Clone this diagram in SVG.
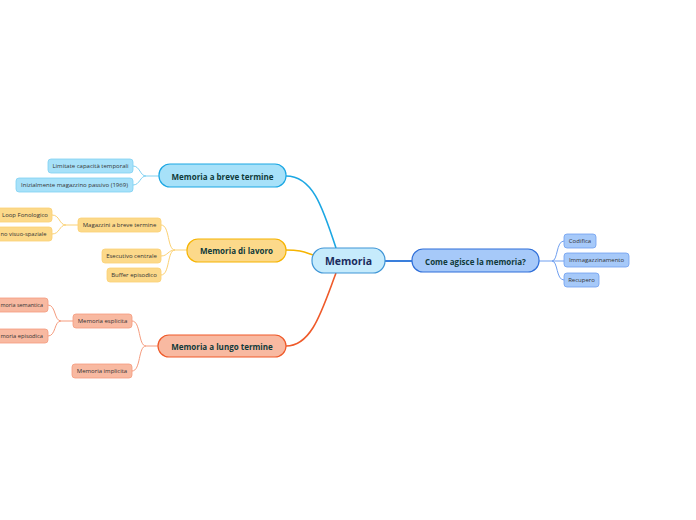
<svg xmlns="http://www.w3.org/2000/svg" width="696" height="520" viewBox="0 0 696 520">
<style>
text{font-family:"Open Sans","Noto Sans","Liberation Sans",sans-serif;text-anchor:middle;dominant-baseline:central}
.root{fill:#c6ebfc;stroke:#3f95d6;stroke-width:1.2}
.rootT{font-size:10.5px;font-weight:bold;fill:#1b2b5e}
.l1T{font-size:8px;font-weight:bold;fill:#0f3a3a}
.cT{font-size:6px;fill:#333}
.cut{text-anchor:start}
.b1{fill:#a7e1f9;stroke:#1ca7e3;stroke-width:1.2}
.b2{fill:#a7e1f9;stroke:#7fd1f2;stroke-width:0.8}
.y1{fill:#fcd98a;stroke:#f6b400;stroke-width:1.2}
.y2{fill:#fcd98a;stroke:#fbd173;stroke-width:0.8}
.r1{fill:#f8b9a1;stroke:#ef5a2a;stroke-width:1.2}
.r2{fill:#f8b9a1;stroke:#f59b7d;stroke-width:0.8}
.c1{fill:#a6c9f9;stroke:#2f6fd9;stroke-width:1.2}
.c2{fill:#a6c9f9;stroke:#6f9ff0;stroke-width:0.8}
.ln{fill:none}
</style>
<g id="connectors">
<path class="ln" d="M385,261 H412" stroke="#3a7fdc" stroke-width="2"/>
<path class="ln" d="M286,176 C312,176 322,205 336,248" stroke="#1ca7e3" stroke-width="1.6"/>
<path class="ln" d="M286,250 C300,250 304,252 313,255" stroke="#f6b400" stroke-width="1.6"/>
<path class="ln" d="M286,346 C312,346 322,310 336,273" stroke="#ef5a2a" stroke-width="1.6"/>
<g stroke="#6f9ff0" stroke-width="1" class="ln">
<path d="M539,261 H552 C558,261 556,241 564,241"/>
<path d="M552,261 H564"/>
<path d="M552,261 C558,261 556,280 564,280"/>
</g>
<g stroke="#7fd1f2" stroke-width="1" class="ln">
<path d="M159,176 H146 C140,176 140,166 133,166"/>
<path d="M146,176 C140,176 140,185 133,185"/>
</g>
<g stroke="#fbd173" stroke-width="1" class="ln">
<path d="M187,250 H175 C167,250 170,225 161,225"/>
<path d="M175,250 C168,250 168,256 161,256"/>
<path d="M175,250 C167,250 170,275 161,275"/>
<path d="M78,225 H66 C59,225 60,215 52,215"/>
<path d="M66,225 C59,225 60,234 52,234"/>
</g>
<g stroke="#f59b7d" stroke-width="1" class="ln">
<path d="M158,346 H146 C138,346 141,321 132,321"/>
<path d="M146,346 C138,346 141,371 132,371"/>
<path d="M73,321 H61 C54,321 56,305 48,305"/>
<path d="M61,321 C54,321 56,336 48,336"/>
</g>
</g>
<g id="memoria"><rect class="root" x="312" y="248" width="73" height="25" rx="12"/><text class="rootT" x="348.5" y="261">Memoria</text></g>
<g id="come"><rect class="c1" x="412" y="249" width="127" height="23" rx="11"/><text class="l1T" x="475.5" y="261">Come agisce la memoria?</text></g>
<g id="codifica"><rect class="c2" x="564" y="234" width="32" height="14" rx="3"/><text class="cT" x="580" y="241">Codifica</text></g>
<g id="immagazzinamento"><rect class="c2" x="564" y="253" width="65" height="14" rx="3"/><text class="cT" x="596.5" y="260">Immagazzinamento</text></g>
<g id="recupero"><rect class="c2" x="564" y="273" width="35" height="14" rx="3"/><text class="cT" x="581.5" y="280">Recupero</text></g>
<g id="breve"><rect class="b1" x="159" y="164" width="127" height="23" rx="11"/><text class="l1T" x="222.5" y="176">Memoria a breve termine</text></g>
<g id="limitate"><rect class="b2" x="48" y="159" width="85" height="14" rx="3"/><text class="cT" x="90.5" y="166">Limitate capacità temporali</text></g>
<g id="inizialmente"><rect class="b2" x="16" y="178" width="117" height="14" rx="3"/><text class="cT" x="74.5" y="185">Inizialmente magazzino passivo (1969)</text></g>
<g id="lavoro"><rect class="y1" x="187" y="239" width="99" height="23" rx="11"/><text class="l1T" x="236.5" y="250.5">Memoria di lavoro</text></g>
<g id="magazzini"><rect class="y2" x="78" y="218" width="83" height="14" rx="3"/><text class="cT" x="119.5" y="225">Magazzini a breve termine</text></g>
<g id="esecutivo"><rect class="y2" x="102" y="249" width="59" height="14" rx="3"/><text class="cT" x="131.5" y="256">Esecutivo centrale</text></g>
<g id="buffer"><rect class="y2" x="107" y="268" width="54" height="14" rx="3"/><text class="cT" x="134" y="275">Buffer episodico</text></g>
<g id="loop"><rect class="y2" x="-6" y="208" width="58" height="14" rx="3"/><text class="cT" x="25" y="215">Loop Fonologico</text></g>
<g id="taccuino"><rect class="y2" x="-30" y="227" width="82" height="14" rx="3"/><text class="cT cut" x="0.5" y="234" textLength="46" lengthAdjust="spacingAndGlyphs">no visuo-spaziale</text></g>
<g id="lungo"><rect class="r1" x="158" y="335" width="128" height="22" rx="11"/><text class="l1T" x="222" y="346">Memoria a lungo termine</text></g>
<g id="esplicita"><rect class="r2" x="73" y="314" width="59" height="14" rx="3"/><text class="cT" x="102.5" y="321">Memoria esplicita</text></g>
<g id="implicita"><rect class="r2" x="72" y="364" width="60" height="14" rx="3"/><text class="cT" x="102" y="371">Memoria implicita</text></g>
<g id="semantica"><rect class="r2" x="-20" y="298" width="68" height="14" rx="3"/><text class="cT cut" x="0.5" y="305" textLength="42.5" lengthAdjust="spacingAndGlyphs">moria semantica</text></g>
<g id="episodica"><rect class="r2" x="-18" y="329" width="66" height="14" rx="3"/><text class="cT cut" x="0.5" y="336" textLength="42.5" lengthAdjust="spacingAndGlyphs">moria episodica</text></g>
</svg>
